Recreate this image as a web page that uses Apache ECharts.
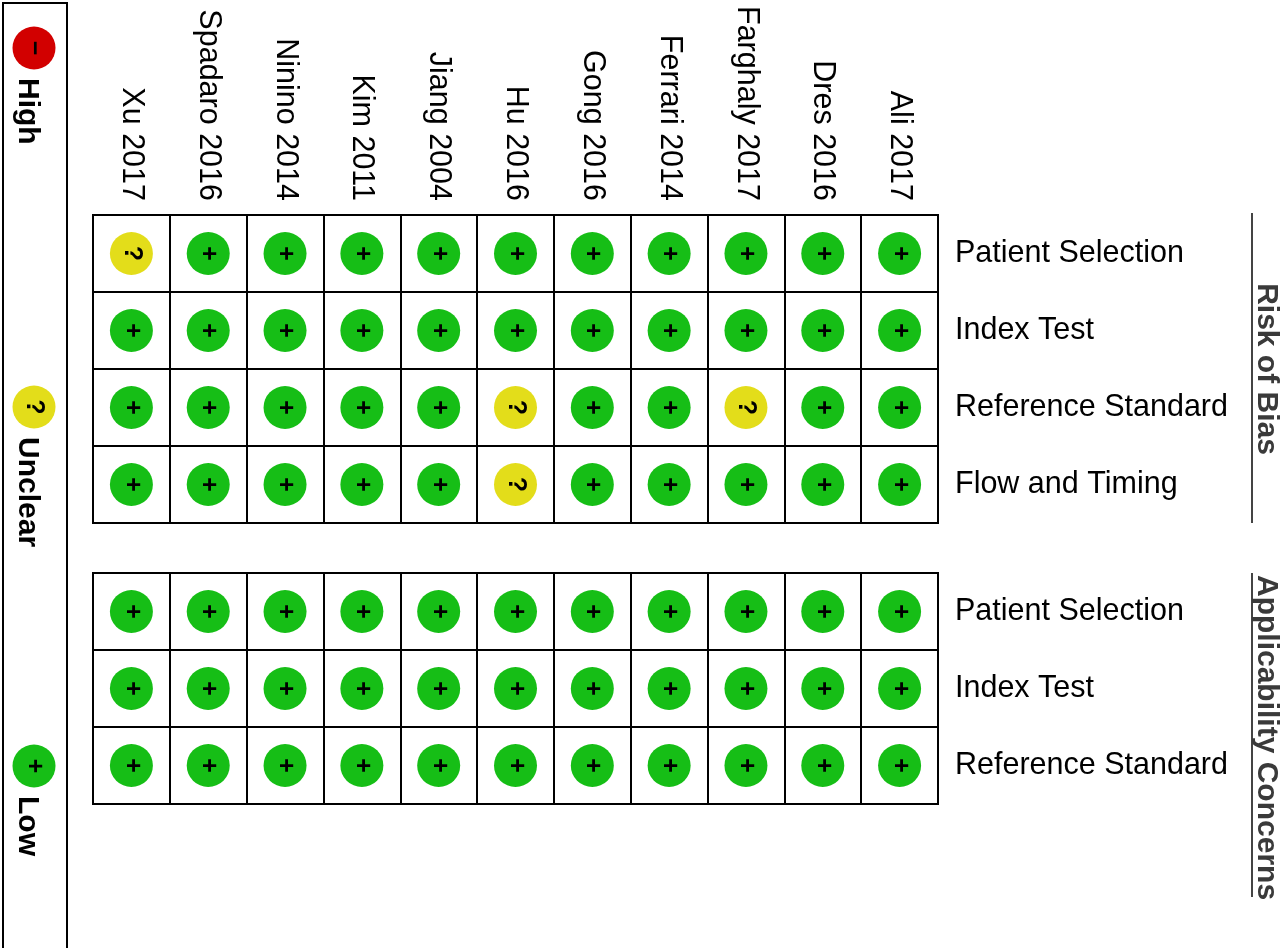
<!DOCTYPE html>
<html>
<head>
<meta charset="utf-8">
<title>Risk of bias summary</title>
<script src="https://cdn.jsdelivr.net/npm/echarts@6/dist/echarts.min.js"></script>
<style>
  html, body { margin: 0; padding: 0; background: #fff; }
  #chart { width: 1280px; height: 948px; }
</style>
</head>
<body>
<div id="chart"></div>
<script>
'use strict'
// studies, left to right
const studies = ['Xu 2017', 'Spadaro 2016', 'Ninino 2014', 'Kim 2011', 'Jiang 2004', 'Hu 2016',
	'Gong 2016', 'Ferrari 2014', 'Farghaly 2017', 'Dres 2016', 'Ali 2017'];
const biasDomains = ['Patient Selection', 'Index Test', 'Reference Standard', 'Flow and Timing'];
const applicDomains = ['Patient Selection', 'Index Test', 'Reference Standard'];

// L = low, U = unclear, H = high (same order as studies)
const biasPatientSelection  = ['U', 'L', 'L', 'L', 'L', 'L', 'L', 'L', 'L', 'L', 'L'];
const biasIndexTest         = ['L', 'L', 'L', 'L', 'L', 'L', 'L', 'L', 'L', 'L', 'L'];
const biasReferenceStandard = ['L', 'L', 'L', 'L', 'L', 'U', 'L', 'L', 'U', 'L', 'L'];
const biasFlowTiming        = ['L', 'L', 'L', 'L', 'L', 'U', 'L', 'L', 'L', 'L', 'L'];
const applicPatientSelection  = ['L', 'L', 'L', 'L', 'L', 'L', 'L', 'L', 'L', 'L', 'L'];
const applicIndexTest         = ['L', 'L', 'L', 'L', 'L', 'L', 'L', 'L', 'L', 'L', 'L'];
const applicReferenceStandard = ['L', 'L', 'L', 'L', 'L', 'L', 'L', 'L', 'L', 'L', 'L'];

const levelCodes = ['H', 'U', 'L'];
const levelNames = ['High', 'Unclear', 'Low'];
const levelSigns = ['\u2212', '?', '+'];
const levelColors = ['#d20000', '#e3dd1a', '#16be16'];
const sectionNames = ['Risk of Bias', 'Applicability Concerns'];

const FONT = '"Liberation Sans", Arial, sans-serif';

function toPoints(rows) {
	let out = [];
	rows.forEach((row, r) => {
		row.forEach((code, c) => out.push([c, r, code]));
	});
	return out;
}
const colorOf = code => levelColors[levelCodes.indexOf(code)];
const signOf = code => levelSigns[levelCodes.indexOf(code)];

const biasData = toPoints([biasPatientSelection, biasIndexTest, biasReferenceStandard, biasFlowTiming]);
const applicData = toPoints([applicPatientSelection, applicIndexTest, applicReferenceStandard]);

// layout
const gridLeft = 93, gridWidth = 845, cell = 77;
const tops = [215, 573];

let chart = echarts.init(document.getElementById('chart'), null, {renderer: 'canvas'});

function xAxisFor(gi, showLabels) {
	return {
		type: 'category',
		gridIndex: gi,
		data: studies,
		position: 'top',
		axisLine: {show: false},
		axisTick: {show: false},
		axisLabel: {
			show: showLabels,
			rotate: 90,
			margin: 14,
			fontSize: 30.5,
			fontFamily: FONT,
			color: '#000'
		},
		splitLine: {show: true, lineStyle: {color: '#000', width: 2}}
	};
}
function yAxisFor(gi, domains) {
	return {
		type: 'category',
		gridIndex: gi,
		data: domains,
		inverse: true,
		position: 'right',
		axisLine: {show: false},
		axisTick: {show: false},
		axisLabel: {
			margin: 17,
			fontSize: 30.5,
			fontFamily: FONT,
			color: '#000'
		},
		splitLine: {show: true, lineStyle: {color: '#000', width: 2}}
	};
}
function cellSeries(xi, data) {
	return {
		type: 'scatter',
		xAxisIndex: xi,
		yAxisIndex: xi,
		data: data,
		symbol: 'circle',
		symbolSize: 43,
		silent: true,
		itemStyle: {
			color: p => colorOf(p.value[2]),
			opacity: 1
		},
		label: {
			show: true,
			position: 'inside',
			rotate: -90,
			formatter: p => signOf(p.value[2]),
			fontSize: 25,
			fontWeight: 'bold',
			fontFamily: FONT,
			color: '#000'
		}
	};
}

// legend (left box) and section titles
let graphics = [{
	type: 'rect',
	shape: {x: 3, y: 3, width: 64, height: 960},
	style: {fill: 'none', stroke: '#000', lineWidth: 2},
	silent: true
}];
const legendY = [48, 407, 766];
levelNames.forEach((name, i) => {
	graphics.push({
		type: 'circle',
		shape: {cx: 34, cy: legendY[i], r: 21.5},
		style: {fill: levelColors[i]},
		silent: true
	});
	graphics.push({
		type: 'text',
		x: 34, y: legendY[i],
		rotation: -Math.PI / 2,
		style: {
			text: levelSigns[i],
			font: 'bold 25px ' + FONT,
			fill: '#000',
			textAlign: 'center',
			textVerticalAlign: 'middle'
		},
		silent: true
	});
	graphics.push({
		type: 'text',
		x: 27, y: legendY[i] + 30,
		rotation: -Math.PI / 2,
		style: {
			text: name,
			font: 'bold 30px ' + FONT,
			fill: '#000',
			textAlign: 'left',
			textVerticalAlign: 'middle'
		},
		silent: true
	});
});
// section titles with rule line on their left
graphics.push({
	type: 'line',
	shape: {x1: 1252, y1: tops[0] - 2, x2: 1252, y2: tops[0] + cell * 4},
	style: {stroke: '#444', lineWidth: 2},
	silent: true
});
graphics.push({
	type: 'text',
	x: 1266, y: tops[0] + cell * 2,
	rotation: -Math.PI / 2,
	style: {
		text: sectionNames[0],
		font: 'bold 30px ' + FONT,
		fill: '#3a3a3a',
		textAlign: 'center',
		textVerticalAlign: 'middle'
	},
	silent: true
});
graphics.push({
	type: 'line',
	shape: {x1: 1252, y1: tops[1], x2: 1252, y2: tops[1] + 324},
	style: {stroke: '#444', lineWidth: 2},
	silent: true
});
graphics.push({
	type: 'text',
	x: 1266, y: tops[1] + 2,
	rotation: -Math.PI / 2,
	style: {
		text: sectionNames[1],
		font: 'bold 30px ' + FONT,
		fill: '#3a3a3a',
		textAlign: 'left',
		textVerticalAlign: 'middle'
	},
	silent: true
});

let option = {
	animation: false,
	backgroundColor: '#fff',
	grid: [{
		left: gridLeft, top: tops[0], width: gridWidth, height: cell * biasDomains.length,
		show: true, borderColor: '#000', borderWidth: 2, backgroundColor: 'transparent'
	}, {
		left: gridLeft, top: tops[1], width: gridWidth, height: cell * applicDomains.length,
		show: true, borderColor: '#000', borderWidth: 2, backgroundColor: 'transparent'
	}],
	xAxis: [xAxisFor(0, true), xAxisFor(1, false)],
	yAxis: [yAxisFor(0, biasDomains), yAxisFor(1, applicDomains)],
	series: [cellSeries(0, biasData), cellSeries(1, applicData)],
	graphic: graphics
};
chart.setOption(option);
</script>
</body>
</html>
